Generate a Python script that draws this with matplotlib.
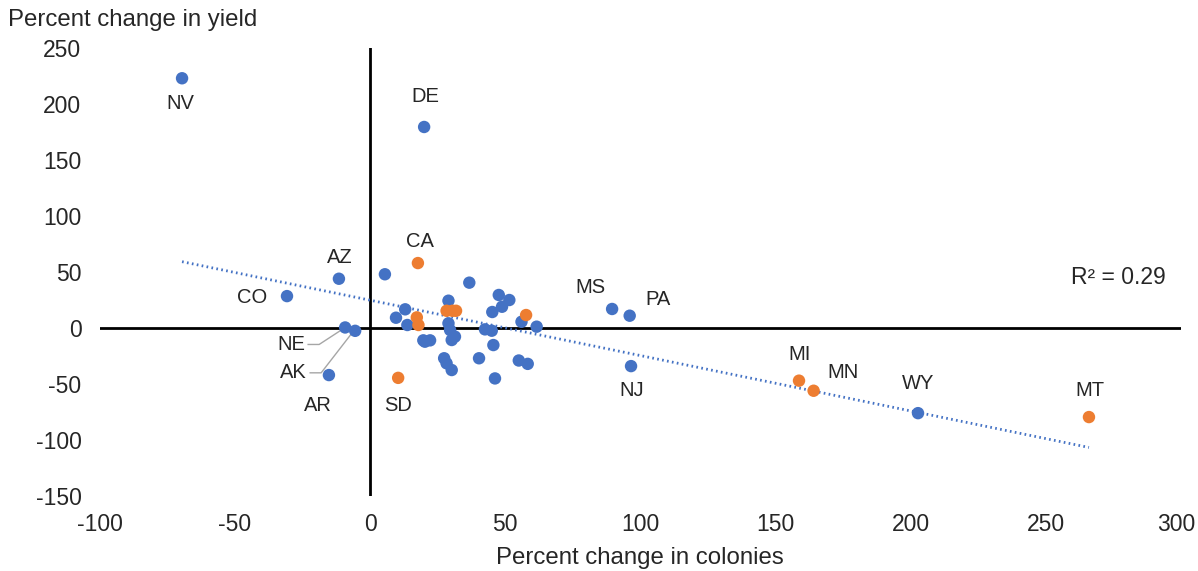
import matplotlib.pyplot as plt
import matplotlib.transforms as mtransforms
import numpy as np

plt.rcParams["font.family"] = ["Liberation Sans", "DejaVu Sans"]
plt.rcParams["axes.unicode_minus"] = False

# Bundesstaaten mit Beschriftung
names = ["NV", "DE", "CA", "AZ", "CO", "NE", "AK", "AR", "SD",
         "MS", "PA", "NJ", "MI", "MN", "WY", "MT"]
name_x = [-69.5, 20, 17.7, -11.5, -30.7, -9.2, -5.5, -15.2, 10.4,
          89.5, 96, 96.5, 158.6, 164, 202.6, 265.8]
name_y = [223, 179.5, 58, 44, 28.5, 0.5, -2.5, -42, -44.5,
          17, 11, -34, -47, -56, -76, -79.5]
name_group = [0, 0, 1, 0, 0, 0, 0, 0, 1, 0, 0, 0, 1, 1, 0, 1]

# Punkte ohne Beschriftung
other_x = [5.5, 36.7, 29, 47.6, 51.5, 48.8, 45.2, 13, 9.6, 13.8, 29, 29.6,
           31.4, 30.2, 19.7, 20.3, 22.2, 42.5, 45, 56, 61.6, 45.6, 27.4,
           28.3, 30.2, 40.3, 55, 58.3, 46.2,
           28.3, 30.5, 31.8, 17.3, 17.9, 57.7]
other_y = [48, 40.5, 24.4, 29.5, 25, 19, 14.3, 16.7, 9.2, 2.7, 4.2, -1.8,
           -7.7, -10.7, -11, -12.2, -11, -1.2, -2.4, 5.6, 1.2, -15.2, -27,
           -31.5, -37.5, -27, -29, -32, -45,
           15.4, 15.4, 15.4, 9.5, 2.7, 11.6]
other_group = [0] * 29 + [1] * 6

# Versatz der Beschriftung in Pixel
label_off = [(-2, -25), (1, 30), (2, 22), (1, 21), (-35, -1), (-54, -17),
             (-62, -42), (-11, -30), (0, -28), (-22, 21), (28, 16), (1, -24),
             (1, 26), (29, 18), (0, 30), (1, 27)]

colors = ["#4472C4", "#ED7D31"]
text_col = "#262626"

x_all = np.array(name_x + other_x)
y_all = np.array(name_y + other_y)
g_all = np.array(name_group + other_group)

fig = plt.figure(figsize=(11.98, 5.71), dpi=100)
ax = fig.add_axes([0.0831, 0.1313, 0.9031, 0.7846])
ax.set_xlim(-100, 300)
ax.set_ylim(-150, 250)

# Achsen durch den Ursprung
ax.axhline(0, color="black", lw=2, zorder=1)
ax.axvline(0, color="black", lw=2, zorder=1)

# Trendlinie
coef = np.polyfit(x_all, y_all, 1)
xs = np.array([x_all.min(), x_all.max()])
ax.plot(xs, np.polyval(coef, xs), color="#4472C4", lw=2, ls=(0, (0.6, 1.2)), zorder=2)

for g in (0, 1):
    m = g_all == g
    ax.scatter(x_all[m], y_all[m], s=80, color=colors[g], edgecolors="none", zorder=3)

for i, n in enumerate(names):
    dx, dy = label_off[i]
    ax.annotate(n, (name_x[i], name_y[i]), xytext=(dx, dy), textcoords="offset pixels",
                ha="center", va="center", fontsize=14.5, color=text_col)

# Hinweislinien fuer NE und AK
for i, n in enumerate(names):
    if n in ("NE", "AK"):
        dx, dy = label_off[i]
        px, py = ax.transData.transform((name_x[i], name_y[i]))
        x0 = px + dx + 17
        pts = [(x0, py + dy), (x0 + 11, py + dy), (px - 3, py - 2)]
        pts = ax.transData.inverted().transform(pts)
        ax.plot(pts[:, 0], pts[:, 1], color="#A6A6A6", lw=1, zorder=2)

ax.text(1166, 293, "R² = 0.29", transform=None, ha="right", va="center", fontsize=16.5, color=text_col)

for s in ax.spines.values():
    s.set_visible(False)
ax.set_xticks(np.arange(-100, 301, 50))
ax.set_yticks(np.arange(-150, 251, 50))
ax.tick_params(length=0, labelsize=16.5, labelcolor=text_col)
ax.tick_params(axis="y", pad=13)
ax.tick_params(axis="x", pad=12)

# letzte Beschriftung etwas nach links, damit sie nicht abgeschnitten wird
fig.canvas.draw()
last = ax.get_xticklabels()[-1]
last.set_transform(last.get_transform() + mtransforms.ScaledTranslation(-5 / 100, 0, fig.dpi_scale_trans))

fig.text(8 / 1198, 1 - 20 / 571, "Percent change in yield", ha="left", va="center", fontsize=17.3, color=text_col)
fig.text(640 / 1198, 1 - 558 / 571, "Percent change in colonies", ha="center", va="center", fontsize=17.3, color=text_col)

fig.savefig("out.png", dpi=100)
